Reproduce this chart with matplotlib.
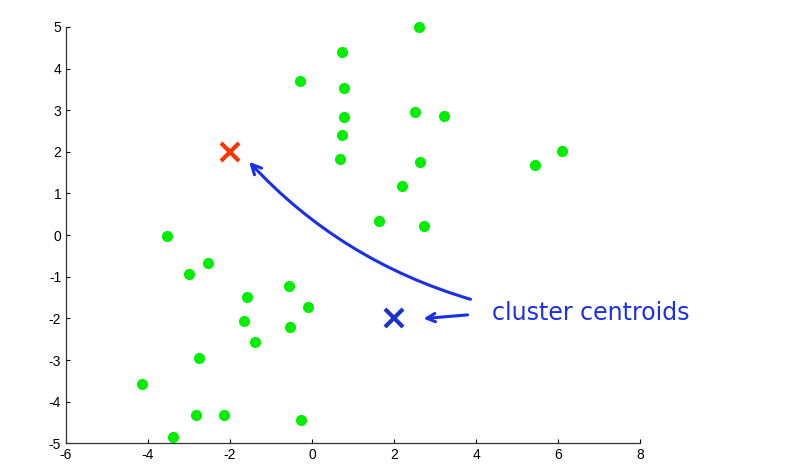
import matplotlib
matplotlib.use("Agg")
import matplotlib.pyplot as plt

plt.rcParams['font.family'] = ['Liberation Sans', 'DejaVu Sans']
plt.rcParams['axes.unicode_minus'] = False

# data points
xs = [2.62, 0.74, -0.29, 0.78, 0.79, 0.74, 0.68, 2.51, 3.22, 2.63, 2.20, 1.64, 2.73,
      5.44, 6.10,
      -3.53, -2.54, -3.01, -0.55, -1.59, -0.10, -1.67, -0.53, -1.39,
      -2.75, -4.15, -2.84, -2.14, -0.28, -3.39]
ys = [5.01, 4.39, 3.70, 3.54, 2.84, 2.40, 1.82, 2.96, 2.85, 1.75, 1.19, 0.35, 0.22,
      1.68, 2.02,
      -0.01, -0.68, -0.93, -1.23, -1.49, -1.73, -2.06, -2.21, -2.56,
      -2.96, -3.57, -4.32, -4.33, -4.45, -4.86]

centroid_red = (-2, 2)
centroid_blue = (2, -2)

xticks = [-6, -4, -2, 0, 2, 4, 6, 8]
yticks = [-5, -4, -3, -2, -1, 0, 1, 2, 3, 4, 5]
label_text = "cluster centroids"

fig = plt.figure(figsize=(7.88, 4.73), dpi=100)
ax = fig.add_axes([0.0838, 0.0628, 0.7284, 0.8802])

ax.plot(xs, ys, 'o', color='#00ee00', markersize=8, markeredgewidth=0, clip_on=False)
ax.plot([centroid_red[0]], [centroid_red[1]], 'x', color='#ff3300', markersize=13, markeredgewidth=3)
ax.plot([centroid_blue[0]], [centroid_blue[1]], 'x', color='#1a33cc', markersize=13, markeredgewidth=3)

ax.set_xlim(-6, 8)
ax.set_ylim(-5, 5)
ax.set_xticks(xticks)
ax.set_yticks(yticks)
ax.tick_params(direction='in', length=3, labelsize=10, width=0.8)
for s in ['top', 'right']:
    ax.spines[s].set_visible(False)
for s in ['left', 'bottom']:
    ax.spines[s].set_linewidth(0.9)
    ax.spines[s].set_color('#333333')

blue = '#1a30e6'
ax.annotate('', xy=(-1.58, 1.81), xytext=(3.93, -1.56),
            arrowprops=dict(arrowstyle='->,head_length=0.7,head_width=0.35', color=blue, lw=2.2,
                            connectionstyle='arc3,rad=-0.14'), annotation_clip=False)
ax.annotate('', xy=(2.65, -2.01), xytext=(3.86, -1.91),
            arrowprops=dict(arrowstyle='->,head_length=0.6,head_width=0.3', color=blue, lw=2.2),
            annotation_clip=False)
ax.text(4.39, -1.87, label_text, color=blue, fontsize=17, va='center', ha='left',
        family=['DejaVu Sans'], clip_on=False)

fig.savefig('out.png', dpi=100)
